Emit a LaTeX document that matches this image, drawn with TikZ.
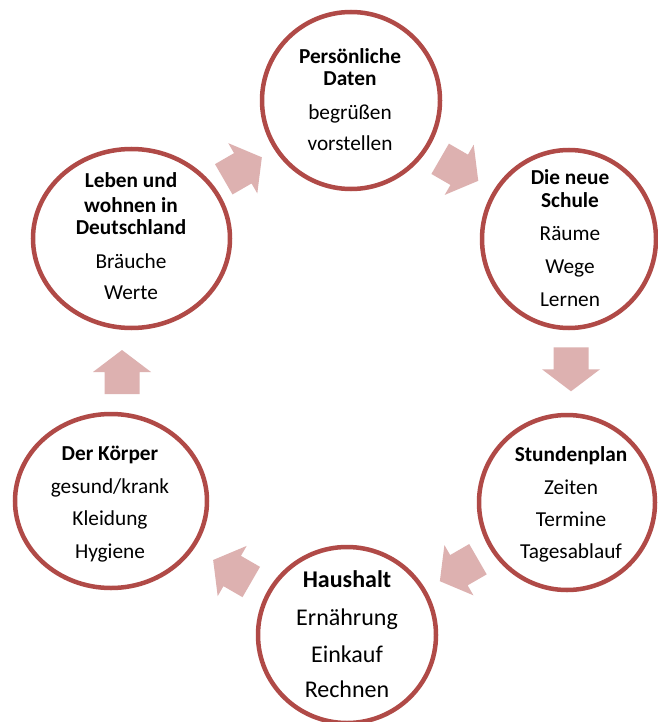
\documentclass[tikz,border=0pt]{standalone}
\usepackage{fontspec}
\setmainfont{Carlito}
\usetikzlibrary{shapes.geometric}
\definecolor{ringred}{RGB}{176,74,71}
\definecolor{arrowpink}{RGB}{221,177,176}
\tikzset{
  ring/.style={ellipse, draw=ringred, line width=4.5pt, fill=white, inner sep=0pt},
  hd/.style={anchor=base, inner sep=0pt, font=\fontsize{21.3}{25}\selectfont\bfseries},
  bd/.style={anchor=base, inner sep=0pt, font=\fontsize{21.3}{25}\selectfont},
  hdl/.style={anchor=base, inner sep=0pt, font=\fontsize{24}{28}\selectfont\bfseries},
  bdl/.style={anchor=base, inner sep=0pt, font=\fontsize{24}{28}\selectfont},
  cyclearrow/.pic={\fill[arrowpink] (-22,-17.5) -- (0,-17.5) -- (0,-29) -- (22,0) -- (0,29) -- (0,17.5) -- (-22,17.5) -- cycle;}
}
\begin{document}
\begin{tikzpicture}[x=1pt,y=-1pt]
\useasboundingbox (0,0) rectangle (657,722);
\fill[white] (0,0) rectangle (657,722);

% circles
\node[ring, minimum width=178pt, minimum height=177pt] (c1) at (351,100.5) {};
\node[ring, minimum width=174pt, minimum height=178pt] (c2) at (569,239) {};
\node[ring, minimum width=176pt, minimum height=175pt] (c3) at (567,502.5) {};
\node[ring, minimum width=178pt, minimum height=176pt] (c4) at (347,635) {};
\node[ring, minimum width=192pt, minimum height=174pt] (c5) at (111,501) {};
\node[ring, minimum width=197pt, minimum height=179pt] (c6) at (131.5,238.5) {};

% arrows
\pic[rotate=30] (a1) at (242.8,168.3) {cyclearrow};
\pic[rotate=-30] (a2) at (459.2,169.8) {cyclearrow};
\pic[rotate=-90] (a3) at (571,369.3) {cyclearrow};
\pic[rotate=-150] (a4) at (458.9,570.2) {cyclearrow};
\pic[rotate=150] (a5) at (232.2,571) {cyclearrow};
\pic[rotate=90] (a6) at (122,372) {cyclearrow};

% texts circle 1
\node[hd] (t11) at (350,64) {Persönliche};
\node[hd] (t12) at (350,86) {Daten};
\node[bd] (t13) at (350,120) {begrüßen};
\node[bd] (t14) at (350,151) {vorstellen};
% circle 2
\node[hd] (t21) at (570,184) {Die neue};
\node[hd] (t22) at (570,207) {Schule};
\node[bd] (t23) at (570,240) {Räume};
\node[bd] (t24) at (570,273) {Wege};
\node[bd] (t25) at (570,306) {Lernen};
% circle 3
\node[hd] (t31) at (571,461) {Stundenplan};
\node[bd] (t32) at (571,494) {Zeiten};
\node[bd] (t33) at (571,526) {Termine};
\node[bd] (t34) at (571,558) {Tagesablauf};
% circle 4
\node[hdl] (t41) at (347,587) {Haushalt};
\node[bdl] (t42) at (347,625) {Ernährung};
\node[bdl] (t43) at (347,662) {Einkauf};
\node[bdl] (t44) at (347,697) {Rechnen};
% circle 5
\node[hd] (t51) at (110,460) {Der Körper};
\node[bd] (t52) at (110,493) {gesund/krank};
\node[bd] (t53) at (110,525) {Kleidung};
\node[bd] (t54) at (110,558) {Hygiene};
% circle 6
\node[hd] (t61) at (131,187) {Leben und};
\node[hd] (t62) at (131,212) {wohnen in};
\node[hd] (t63) at (131,234) {Deutschland};
\node[bd] (t64) at (131,268) {Bräuche};
\node[bd] (t65) at (131,299) {Werte};
\end{tikzpicture}
\end{document}
